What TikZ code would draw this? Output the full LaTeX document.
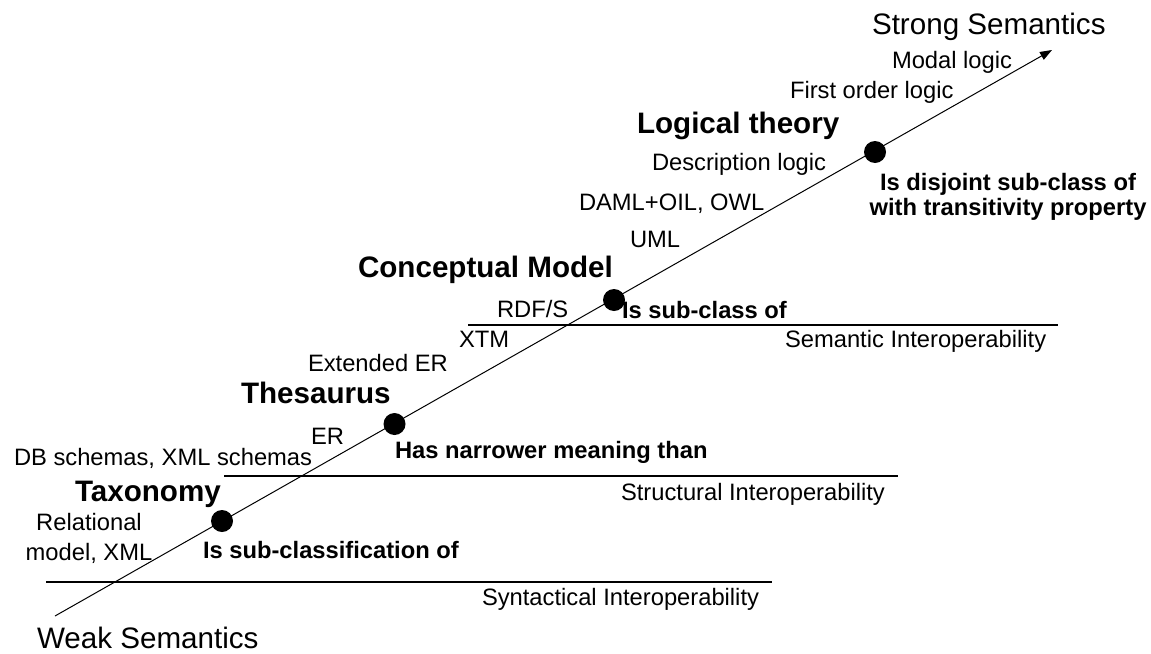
\documentclass[tikz,border=0pt]{standalone}
\usepackage{fontspec}
\setmainfont{Liberation Sans}
\usetikzlibrary{arrows.meta}
\begin{document}
\begin{tikzpicture}[x=0.75pt,y=-0.75pt,
 every node/.style={inner sep=0pt,outer sep=0pt,anchor=base west},
 small/.style={font=\fontsize{17.8}{22}\selectfont},
 smallb/.style={font=\fontsize{17.8}{18.75}\selectfont\bfseries},
 big/.style={font=\fontsize{22.2}{26}\selectfont},
 bigb/.style={font=\fontsize{22.2}{26}\selectfont\bfseries},
 dot/.style={circle,fill=black,minimum size=16.5pt,anchor=center},
 axis/.style={line width=0.75pt},
 level/.style={line width=0.9pt}]
\useasboundingbox (0,0) rectangle (1151,653);
% interoperability levels
\coordinate (semL) at (468,325);
\coordinate (semR) at (1058,325);
\coordinate (strL) at (224,476);
\coordinate (strR) at (898,476);
\coordinate (synL) at (46,582);
\coordinate (synR) at (772,582);
\draw[level] (semL) -- (semR);
\draw[level] (strL) -- (strR);
\draw[level] (synL) -- (synR);
% main axis
\coordinate (weak) at (55,616);
\coordinate (strong) at (1052,50);
\draw[axis,-{Triangle[length=9pt,width=6.5pt]}] (weak) -- (strong);
% dots
\node[dot] (taxdot) at (222,521) {};
\node[dot] (thedot) at (394.5,424) {};
\node[dot] (condot) at (614,300) {};
\node[dot] (logdot) at (875,152) {};
% end labels
\node[big] (strongl) at (872,34) {Strong Semantics};
\node[big] (weakl) at (37,648) {Weak Semantics};
% level labels
\node[small] (semi) at (785,347) {Semantic Interoperability};
\node[small] (stri) at (621,500) {Structural Interoperability};
\node[small] (syni) at (482,605) {Syntactical Interoperability};
% category names
\node[bigb] (logt) at (637,133) {Logical theory};
\node[bigb] (conm) at (358,277) {Conceptual Model};
\node[bigb] (thes) at (241,403) {Thesaurus};
\node[bigb] (taxo) at (75,501) {Taxonomy};
% relations
\node[smallb,align=center,anchor=base] (rlog) at (1008,215) {Is disjoint sub-class of\\with transitivity property};
\node[smallb] (rcon) at (622,318) {Is sub-class of};
\node[smallb] (rthe) at (395,458) {Has narrower meaning than};
\node[smallb] (rtax) at (203,558) {Is sub-classification of};
% examples
\node[small] (modal) at (892,68) {Modal logic};
\node[small] (fol) at (790,98) {First order logic};
\node[small] (dl) at (652,170) {Description logic};
\node[small] (daml) at (579,210) {DAML+OIL, OWL};
\node[small] (uml) at (630,247) {UML};
\node[small] (rdfs) at (497,317) {RDF/S};
\node[small] (xtm) at (459,347) {XTM};
\node[small] (eer) at (308,371) {Extended ER};
\node[small] (er) at (311,444) {ER};
\node[small] (dbx) at (14,465) {DB schemas, XML schemas};
\node[small,align=center,anchor=base] (relm) at (89,560) {Relational\\model, XML};
\end{tikzpicture}
\end{document}
